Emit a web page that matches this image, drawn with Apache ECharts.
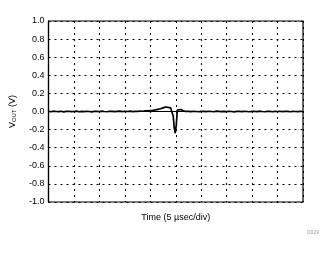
<!DOCTYPE html>
<html><head><meta charset="utf-8">
<script src="https://cdn.jsdelivr.net/npm/echarts@6/dist/echarts.min.js"></script>
<style>html,body{margin:0;padding:0;background:#fff}#c{width:336px;height:254px}</style>
</head><body><div id="c"></div>
<script>
// time in µs (5 µs/div, 10 divisions)
const times = [0,0.5,1,1.5,2,2.5,3,3.5,4,4.5,5,5.5,6,6.5,7,7.5,8,8.5,9,9.5,10,10.5,11,11.5,12,12.5,13,13.5,14,14.5,15,15.5,16,16.5,17,17.5,18,18.5,19,19.5,
  20,20.5,21,21.5,22,22.5,23,23.5,24,24.3,24.5,24.7,24.9,25.1,25.3,25.6,26,26.4,26.8,27,27.5,28,28.5,29,29.5,30,30.5,31,31.5,32,32.5,33,33.5,34,34.5,35,35.5,36,36.5,37,37.5,38,38.5,39,39.5,40,40.5,41,41.5,42,42.5,43,43.5,44,44.5,45,45.5,46,46.5,47,47.5,48,48.5,49,49.5,50];
const vout = [0.002,-0.003,0.004,0.000,-0.002,0.003,-0.004,0.001,0.003,-0.002,0.000,0.004,-0.003,0.002,-0.001,0.003,0.000,-0.004,0.002,0.001,-0.002,0.004,0.000,-0.003,0.003,0.001,-0.002,0.002,0.005,-0.001,0.003,0.000,0.004,-0.002,0.002,0.001,0.004,0.003,0.007,0.008,
  0.011,0.013,0.018,0.024,0.030,0.040,0.050,0.046,0.040,0.032,-0.050,-0.180,-0.240,-0.150,0.015,0.030,0.022,0.010,0.002,-0.003,0.002,-0.002,0.003,0.000,-0.003,0.002,0.001,-0.002,0.003,0.000,-0.003,0.004,0.001,-0.002,0.002,-0.001,0.003,0.000,-0.004,0.002,0.001,-0.002,0.003,0.000,-0.003,0.002,0.001,-0.002,0.004,0.000,-0.003,0.002,0.001,-0.003,0.002,0.000,0.003,-0.002,0.001,0.002,-0.003,0.001,0.000,-0.002,0.002,0.000,0.001];
const yTicks = {min:-1, max:1, step:0.2};
const xTicks = {min:0, max:50, step:5};

const chart = echarts.init(document.getElementById('c'), null, {renderer:'canvas'});
const font = 'Liberation Sans, Arial, sans-serif';
chart.setOption({
  animation:false,
  grid:{left:48, right:33, top:21, bottom:52, show:true, borderColor:'#000', borderWidth:1.2, containLabel:false},
  xAxis:{type:'value', min:xTicks.min, max:xTicks.max, interval:xTicks.step,
    axisLine:{show:true, lineStyle:{color:'#000', width:1.2}}, axisTick:{show:false}, axisLabel:{show:false},
    splitLine:{show:true, lineStyle:{color:'#000', width:1, type:[2,4]}},
    name:'Time (5 µsec/div)', nameLocation:'middle', nameGap:11,
    nameTextStyle:{fontFamily:font, fontSize:9, color:'#000'}},
  yAxis:{type:'value', min:yTicks.min, max:yTicks.max, interval:yTicks.step,
    axisLine:{show:true, lineStyle:{color:'#000', width:1.2}}, axisTick:{show:false},
    axisLabel:{fontFamily:font, fontSize:9, color:'#000', margin:4, formatter:v=>v.toFixed(1)},
    splitLine:{show:true, lineStyle:{color:'#000', width:1, type:[2,4]}},
    name:'{v|V}{s|OUT}{v| (V)}', nameLocation:'middle', nameGap:31,
    nameTextStyle:{fontFamily:font, fontSize:9, color:'#000',
      rich:{v:{fontFamily:font, fontSize:9, color:'#000'}, s:{fontFamily:font, fontSize:6, color:'#000', verticalAlign:'bottom', padding:[4,0,0,0]}}}},
  series:[{type:'line', data:times.map((t,i)=>[t,vout[i]]), showSymbol:false, symbol:'none',
    lineStyle:{color:'#000', width:1.7}}],
  graphic:[{type:'text', left:307, top:230, style:{text:'D029', fontFamily:font, fontSize:5, fill:'#999'}}]
});
</script></body></html>
